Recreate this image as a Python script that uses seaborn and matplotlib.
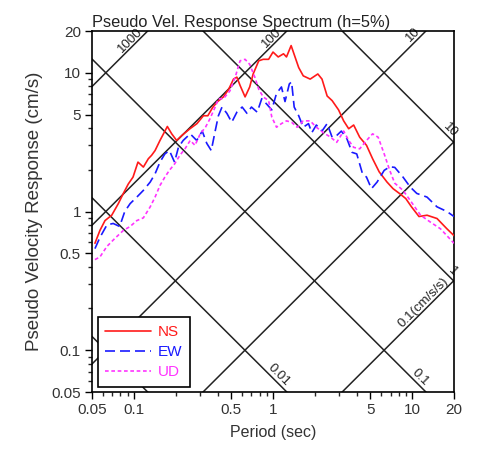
import numpy as np
import pandas as pd
import matplotlib
matplotlib.use("Agg")
import matplotlib.pyplot as plt
import seaborn as sns
from matplotlib.ticker import FixedLocator, FixedFormatter, NullFormatter
from matplotlib.lines import Line2D

# ---------------- data ----------------
ns_T = [0.0525, 0.057, 0.062, 0.0693, 0.0773, 0.084, 0.0912, 0.0986, 0.107, 0.117, 0.127, 0.134,
        0.142, 0.154, 0.174, 0.187, 0.203, 0.221, 0.253, 0.284, 0.316, 0.34, 0.37, 0.40, 0.44,
        0.48, 0.52, 0.55, 0.58, 0.63, 0.68, 0.72, 0.79, 0.85, 0.93, 1.0, 1.09, 1.19, 1.25, 1.35,
        1.44, 1.53, 1.65, 1.85, 2.1, 2.25, 2.45, 2.66, 2.96, 3.22, 3.5, 3.8, 4.2, 4.7, 5.2, 5.8,
        6.6, 7.3, 8.1, 9.0, 9.9, 11.2, 12.8, 15.1, 17.8, 20.0]
ns_SV = [0.59, 0.73, 0.86, 0.94, 1.14, 1.35, 1.58, 1.77, 2.27, 2.09, 2.40, 2.54,
         2.75, 3.25, 4.10, 3.63, 3.25, 3.53, 3.95, 4.3, 4.9, 4.9, 5.66, 6.2, 6.7,
         7.6, 9.0, 9.3, 8.1, 6.7, 7.9, 9.8, 12.2, 12.5, 12.5, 14.1, 13.0, 13.7, 13.0, 15.7,
         13.0, 10.9, 9.5, 9.0, 9.8, 9.0, 6.8, 6.3, 5.4, 4.5, 3.95, 4.2, 3.43, 3.0, 2.4, 1.93,
         1.63, 1.46, 1.35, 1.24, 1.08, 0.92, 0.94, 0.89, 0.75, 0.67]

ew_T = [0.0525, 0.057, 0.064, 0.071, 0.079, 0.086, 0.094, 0.105, 0.117, 0.131, 0.142, 0.154,
        0.167, 0.18, 0.196, 0.209, 0.226, 0.254, 0.283, 0.31, 0.334, 0.36, 0.384, 0.405, 0.43,
        0.466, 0.505, 0.55, 0.6, 0.65, 0.7, 0.77, 0.83, 0.9, 0.98, 1.06, 1.15, 1.22, 1.31, 1.36,
        1.42, 1.53, 1.65, 1.8, 1.9, 2.05, 2.25, 2.45, 2.66, 2.87, 3.1, 3.4, 3.7, 4.0, 4.4, 4.7,
        5.1, 5.6, 6.3, 6.9, 7.5, 8.6, 9.7, 10.8, 12.8, 15.1, 17.8, 20.0]
ew_SV = [0.54, 0.65, 0.80, 0.82, 0.78, 1.0, 1.14, 1.27, 1.42, 1.63, 1.87, 2.27,
         2.6, 2.75, 2.27, 2.9, 3.25, 3.63, 3.25, 3.8, 3.1, 2.75, 3.8, 4.9, 5.66,
         5.1, 4.4, 5.2, 5.66, 5.1, 5.66, 5.2, 6.5, 5.95, 5.4, 7.1, 7.9, 6.2, 8.3, 8.6,
         5.66, 4.9, 4.05, 4.3, 3.7, 4.2, 3.8, 4.3, 3.43, 3.53, 3.8, 3.34, 2.67, 2.6, 1.87, 1.77,
         1.46, 1.63, 1.98, 2.1, 2.08, 1.77, 1.50, 1.35, 1.27, 1.08, 1.0, 0.92]

ud_T = [0.0525, 0.057, 0.064, 0.073, 0.084, 0.094, 0.105, 0.117, 0.131, 0.142, 0.154, 0.167,
        0.18, 0.196, 0.214, 0.233, 0.254, 0.275, 0.3, 0.327, 0.35, 0.384, 0.405, 0.44, 0.49,
        0.535, 0.58, 0.63, 0.68, 0.74, 0.79, 0.85, 0.93, 0.98, 1.06, 1.15, 1.25, 1.36, 1.49,
        1.65, 1.85, 2.05, 2.3, 2.6, 2.87, 3.22, 3.5, 3.8, 4.2, 4.7, 5.2, 5.7, 6.3, 6.9, 7.5,
        8.6, 9.7, 11.5, 13.5, 16.0, 20.0]
ud_SV = [0.45, 0.47, 0.56, 0.64, 0.73, 0.78, 0.86, 0.9, 1.08, 1.27, 1.54, 1.77,
         1.98, 2.2, 2.54, 2.83, 3.25, 3.0, 3.63, 4.05, 4.6, 5.66, 6.5, 6.5, 7.4,
         9.3, 12.2, 12.5, 11.5, 9.3, 7.6, 6.7, 6.3, 4.8, 4.05, 4.3, 4.5, 4.4, 4.05,
         4.5, 4.5, 4.05, 3.7, 3.43, 3.15, 3.8, 3.25, 2.9, 2.83, 3.25, 3.63, 3.43, 2.6, 1.98, 1.6,
         1.42, 1.2, 0.94, 0.84, 0.75, 0.59]

components = ["NS", "EW", "UD"]
colors = {"NS": "#ff1a1a", "EW": "#1a1aff", "UD": "#ff33ff"}
dash_styles = {"NS": "", "EW": (6, 3), "UD": (2.2, 1.6)}

# tripartite grid values
disp_lines = [0.001, 0.01, 0.1, 1, 10]          # cm
acc_lines = [0.1, 1, 10, 100, 1000]              # cm/s/s

tick_vals = [0.05, 0.1, 0.5, 1, 5, 10, 20]
tick_labels = ["0.05", "0.1", "0.5", "1", "5", "10", "20"]
minor_vals = [0.06, 0.07, 0.08, 0.09, 0.2, 0.3, 0.4, 0.6, 0.7, 0.8, 0.9,
              2, 3, 4, 6, 7, 8, 9]

# ---------------- figure ----------------
sns.set_style("white")
plt.rcParams["font.family"] = ["Liberation Sans", "DejaVu Sans"]

fig = plt.figure(figsize=(4.81, 4.55), dpi=100)
ax = fig.add_axes([92 / 481, 1 - 392 / 455, 362 / 481, 361 / 455])
ax.set_xscale("log")
ax.set_yscale("log")
lo, hi = 0.05, 20
ax.set_xlim(lo, hi)
ax.set_ylim(lo, hi)

# diagonal grid
Tg = np.logspace(np.log10(lo), np.log10(hi), 200)
for D in disp_lines:
    ax.plot(Tg, 2 * np.pi * D / Tg, color="#222222", lw=1.1, zorder=1)
for A in acc_lines:
    ax.plot(Tg, A * Tg / (2 * np.pi), color="#222222", lw=1.1, zorder=1)

lab_kw = dict(fontsize=9.5, color="#222222", rotation_mode="anchor",
              ha="right", va="bottom", zorder=2)
# acceleration labels at top
for A, txt in [(1000, "1000"), (100, "100"), (10, "10")]:
    T = 2 * np.pi * 19.0 / A
    ax.text(T, A * T / (2 * np.pi), txt, rotation=45, **lab_kw)
T = 19.0
ax.text(T, 0.1 * T / (2 * np.pi), "0.1(cm/s/s)", rotation=45, **lab_kw)
# displacement labels
for D, txt in [(0.01, "0.01"), (0.1, "0.1")]:
    T = 2 * np.pi * D / 0.053
    ax.text(T, 0.053, txt, rotation=-45, **lab_kw)
for D, txt in [(10, "10"), (1, "1")]:
    T = 19.0
    ax.text(T, 2 * np.pi * D / T, txt, rotation=-45, **lab_kw)

# spectra
frames = []
for comp, T, SV in [("NS", ns_T, ns_SV), ("EW", ew_T, ew_SV), ("UD", ud_T, ud_SV)]:
    frames.append(pd.DataFrame({"T": T, "SV": SV, "comp": comp}))
df = pd.concat(frames, ignore_index=True)
sns.lineplot(data=df, x="T", y="SV", hue="comp", style="comp",
             hue_order=components, style_order=components,
             palette=colors, dashes=dash_styles, sort=False, estimator=None,
             lw=1.2, ax=ax, zorder=3, legend=False)

# ticks
for axis in (ax.xaxis, ax.yaxis):
    axis.set_major_locator(FixedLocator(tick_vals))
    axis.set_major_formatter(FixedFormatter(tick_labels))
    axis.set_minor_locator(FixedLocator(minor_vals))
    axis.set_minor_formatter(NullFormatter())
ax.tick_params(which="major", direction="out", length=5, width=1.0,
               labelsize=11, colors="black", labelcolor="#333333",
               bottom=True, left=True, top=False, right=False, pad=3)
ax.tick_params(which="minor", direction="out", length=3.2, width=1.0,
               bottom=True, left=True, top=False, right=False)
for s in ax.spines.values():
    s.set_color("black")
    s.set_linewidth(1.2)

ax.set_xlabel("Period (sec)", fontsize=11.5, color="#333333", labelpad=6)
ax.set_ylabel("Pseudo Velocity Response (cm/s)", fontsize=13.5, color="#333333", labelpad=6)
ax.set_title("Pseudo Vel. Response Spectrum (h=5%)", fontsize=11.8, loc="left",
             color="#222222", pad=3)

# legend
handles = []
for c in components:
    d = dash_styles[c]
    h = Line2D([0], [0], color=colors[c], lw=1.2)
    if d:
        h.set_dashes(d)
    handles.append(h)
leg = ax.legend(handles, components, loc="lower left", bbox_to_anchor=(0.016, 0.014),
                frameon=True, fancybox=False, framealpha=1, edgecolor="black",
                fontsize=11, handlelength=3.0, borderpad=0.5, labelspacing=0.4,
                handletextpad=0.4, borderaxespad=0)
leg.get_frame().set_linewidth(1.2)
for t, c in zip(leg.get_texts(), components):
    t.set_color(colors[c])

fig.savefig("out.png", dpi=100)
